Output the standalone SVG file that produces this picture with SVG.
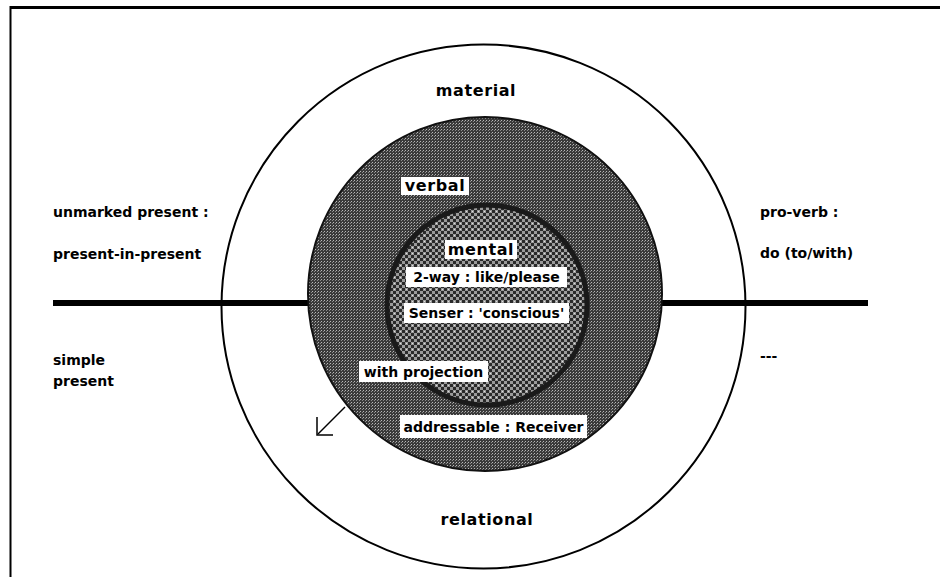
<svg xmlns="http://www.w3.org/2000/svg" width="940" height="577" viewBox="0 0 940 577">
  <style>
    .lbl { font-family: "DejaVu Sans", "Liberation Sans", sans-serif; font-size: 14px; font-weight: bold; fill: #000; }
    .big { font-family: "DejaVu Sans", "Liberation Sans", sans-serif; font-size: 16px; font-weight: bold; fill: #000; letter-spacing: 0.6px; }
    .box { fill: #fff; stroke: none; }
  </style>
  <defs>
    <!-- fine dark stipple for the middle band -->
    <pattern id="stipple" width="3" height="3" patternUnits="userSpaceOnUse">
      <rect width="3" height="3" fill="#3a3a3a"/>
      <rect x="0" y="0" width="1" height="1" fill="#b8b8b8"/>
      <rect x="2" y="1" width="1" height="1" fill="#8a8a8a"/>
    </pattern>
    <!-- coarser checker for the inner disc -->
    <pattern id="checker" width="6" height="6" patternUnits="userSpaceOnUse">
      <rect width="6" height="6" fill="#9a9a9a"/>
      <rect x="0" y="0" width="3" height="3" fill="#2a2a2a"/>
      <rect x="3" y="3" width="3" height="3" fill="#2a2a2a"/>
      <rect x="4" y="1" width="1" height="1" fill="#e0e0e0"/>
    </pattern>
  </defs>

  <rect width="940" height="577" fill="#fff"/>

  <!-- frame -->
  <g id="frame" stroke="#000" fill="none">
    <line x1="10" y1="7.5" x2="940" y2="7.5" stroke-width="3"/>
    <line x1="10.5" y1="6" x2="10.5" y2="577" stroke-width="2"/>
  </g>

  <!-- horizontal divider and the small arrow -->
  <g id="connectors">
    <line x1="53" y1="303" x2="868" y2="303" stroke="#000" stroke-width="6"/>
    <g fill="none" stroke="#000" stroke-width="1.5">
      <line x1="345" y1="407" x2="318" y2="434"/>
      <polyline points="317,417 317,435 333,435"/>
    </g>
  </g>

  <!-- outer circle -->
  <g id="outer">
    <circle cx="483.5" cy="306.5" r="262" fill="none" stroke="#000" stroke-width="2"/>
    <text class="big" x="476" y="96" text-anchor="middle">material</text>
    <text class="big" x="487" y="525" text-anchor="middle">relational</text>
  </g>

  <!-- middle disc -->
  <g id="verbal">
    <circle cx="485" cy="294" r="177" fill="url(#stipple)" stroke="#111" stroke-width="2"/>
    <rect class="box" x="401" y="177" width="68" height="18"/>
    <text class="big" x="435" y="191" text-anchor="middle">verbal</text>
  </g>

  <!-- inner disc -->
  <g id="mental">
    <circle cx="487" cy="305" r="100" fill="url(#checker)" stroke="#1a1a1a" stroke-width="5"/>
    <rect class="box" x="445" y="240" width="72" height="19"/>
    <text class="big" x="481" y="255" text-anchor="middle">mental</text>
  </g>

  <g id="two-way">
    <rect class="box" x="406" y="267" width="161" height="20"/>
    <text class="lbl" x="486.5" y="282" text-anchor="middle">2-way : like/please</text>
  </g>

  <g id="senser">
    <rect class="box" x="404" y="303" width="165" height="20"/>
    <text class="lbl" x="486.5" y="318" text-anchor="middle">Senser : 'conscious'</text>
  </g>

  <g id="projection">
    <rect class="box" x="359" y="361" width="129" height="21"/>
    <text class="lbl" x="423.5" y="377" text-anchor="middle">with projection</text>
  </g>

  <g id="receiver">
    <rect class="box" x="400" y="415" width="187" height="23"/>
    <text class="lbl" x="493.5" y="432" text-anchor="middle">addressable : Receiver</text>
  </g>

  <!-- side labels -->
  <g id="left-upper">
    <text class="lbl" x="53" y="217">unmarked present :</text>
    <text class="lbl" x="53" y="259">present-in-present</text>
  </g>
  <g id="left-lower">
    <text class="lbl" x="53" y="365">simple</text>
    <text class="lbl" x="53" y="386">present</text>
  </g>
  <g id="right-upper">
    <text class="lbl" x="760" y="217">pro-verb :</text>
    <text class="lbl" x="760" y="258">do (to/with)</text>
  </g>
  <g id="right-lower">
    <text class="lbl" x="760" y="361">---</text>
  </g>
</svg>
